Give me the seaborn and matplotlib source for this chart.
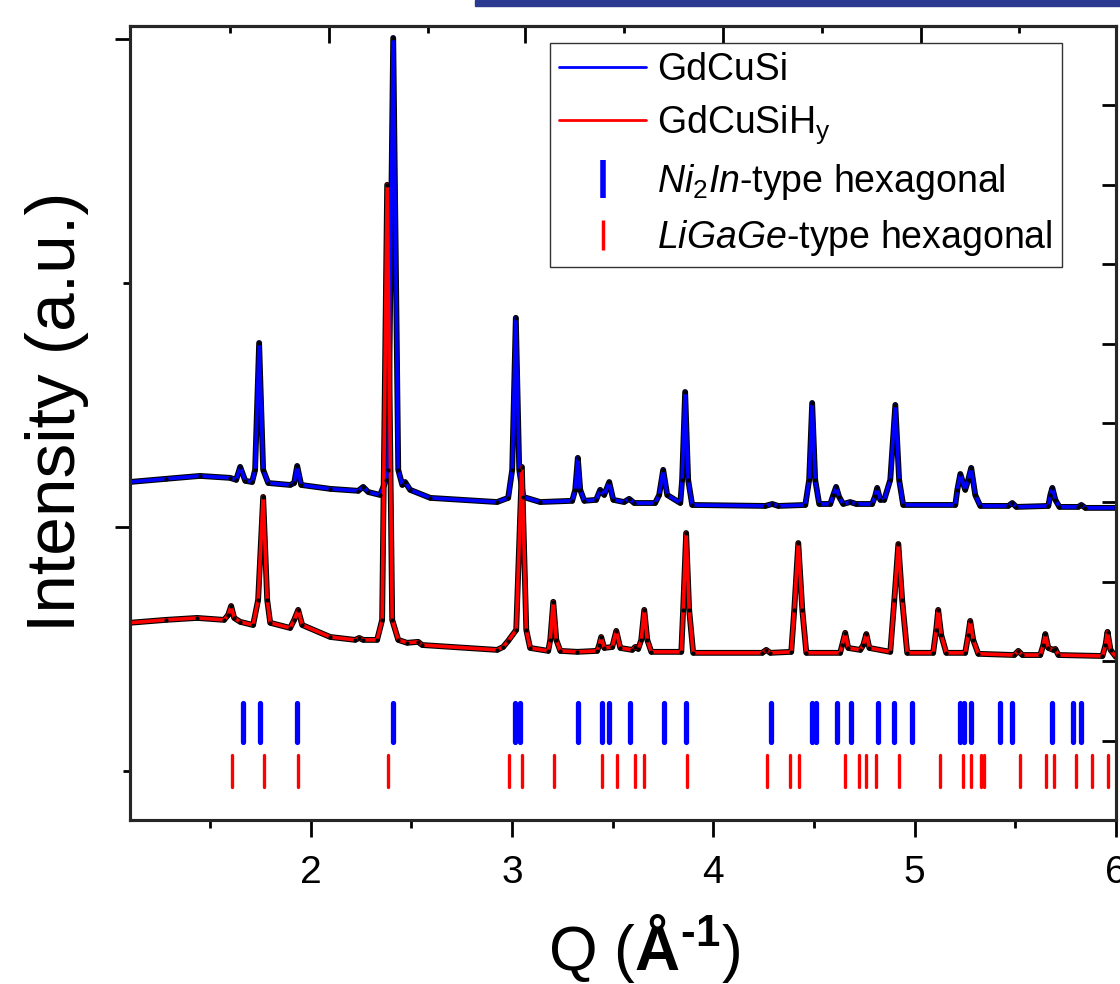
import matplotlib
matplotlib.use("Agg")
import matplotlib.pyplot as plt
from matplotlib.lines import Line2D
from matplotlib.patches import Rectangle
from matplotlib.ticker import MultipleLocator
import seaborn as sns

# GdCuSi (blue) pattern, values as plotted (offset included)
q_gdcusi = [1.10, 1.28, 1.45, 1.60, 1.63, 1.65, 1.675, 1.709, 1.724, 1.744, 1.764, 1.789,
            1.898, 1.918, 1.933, 1.953, 2.097, 2.236, 2.261, 2.286, 2.345, 2.375, 2.385,
            2.410, 2.435, 2.455, 2.469, 2.494, 2.594, 2.926, 2.981, 3.001, 3.019, 3.036,
            3.056, 3.140, 3.299, 3.314, 3.327, 3.339, 3.359, 3.418, 3.438, 3.458, 3.483,
            3.503, 3.557, 3.582, 3.607, 3.711, 3.731, 3.751, 3.771, 3.836, 3.845, 3.860,
            3.875, 3.895, 4.258, 4.293, 4.322, 4.457, 4.476, 4.491, 4.506, 4.526, 4.581,
            4.596, 4.610, 4.625, 4.645, 4.680, 4.710, 4.789, 4.804, 4.814, 4.829, 4.849,
            4.879, 4.904, 4.923, 4.943, 5.202, 5.212, 5.227, 5.251, 5.266, 5.281, 5.301,
            5.326, 5.465, 5.485, 5.505, 5.664, 5.674, 5.684, 5.699, 5.719, 5.813, 5.828,
            5.848, 6.00]
i_gdcusi = [1.84, 1.97, 2.09, 2.01, 1.93, 2.46, 1.89, 1.84, 2.34, 7.54, 2.34, 1.80,
            1.72, 1.80, 2.50, 1.72, 1.56, 1.48, 1.64, 1.43, 1.31, 1.93, 2.34,
            20.04, 2.34, 1.72, 1.84, 1.52, 1.19, 1.02, 1.19, 2.34, 8.57, 2.34,
            1.23, 1.02, 1.07, 1.52, 2.83, 1.52, 1.07, 1.11, 1.52, 1.31, 1.84,
            1.11, 1.02, 1.15, 0.98, 0.98, 1.31, 2.34, 1.31, 0.98, 1.93, 5.53,
            1.93, 0.90, 0.86, 0.94, 0.86, 0.90, 1.93, 5.08, 1.93, 0.94, 0.94,
            1.31, 1.64, 1.23, 0.94, 1.02, 0.94, 0.94, 1.27, 1.60, 1.11, 1.11,
            1.93, 5.00, 1.93, 0.90, 0.90, 1.52, 2.17, 1.52, 1.93, 2.42, 1.31,
            0.86, 0.86, 0.98, 0.82, 0.86, 1.31, 1.60, 1.11, 0.82, 0.82, 0.90,
            0.78, 0.78]

# GdCuSiHy (red) pattern
q_hydride = [1.10, 1.28, 1.436, 1.570, 1.590, 1.605, 1.620, 1.650, 1.714, 1.739, 1.764, 1.784,
             1.799, 1.898, 1.918, 1.938, 1.958, 2.097, 2.221, 2.241, 2.261, 2.330, 2.355,
             2.380, 2.405, 2.435, 2.479, 2.534, 2.554, 2.926, 2.956, 2.981, 3.021, 3.049,
             3.071, 3.090, 3.180, 3.190, 3.205, 3.220, 3.240, 3.324, 3.423, 3.433, 3.443,
             3.458, 3.498, 3.518, 3.538, 3.597, 3.612, 3.627, 3.642, 3.657, 3.672, 3.692,
             3.841, 3.850, 3.865, 3.880, 3.900, 4.243, 4.263, 4.283, 4.387, 4.402, 4.422,
             4.442, 4.462, 4.630, 4.640, 4.655, 4.670, 4.730, 4.745, 4.760, 4.775, 4.879,
             4.899, 4.919, 4.938, 4.963, 5.092, 5.107, 5.117, 5.132, 5.157, 5.251, 5.266,
             5.276, 5.291, 5.316, 5.495, 5.515, 5.535, 5.624, 5.639, 5.649, 5.664, 5.689,
             5.699, 5.714, 5.933, 5.948, 5.958, 5.973, 6.00]
i_hydride = [-3.93, -3.81, -3.73, -3.81, -3.61, -3.24, -3.73, -3.89, -4.02, -2.99, 1.23, -2.99,
             -3.93, -4.14, -3.81, -3.40, -4.02, -4.51, -4.63, -4.55, -4.63, -4.63, -3.81,
             14.02, -3.81, -4.63, -4.75, -4.71, -4.84, -5.04, -4.92, -4.67, -4.22, 2.46,
             -4.22, -4.96, -5.08, -4.63, -3.07, -4.63, -5.08, -5.12, -5.08, -4.84, -4.51,
             -4.96, -4.92, -4.26, -4.96, -5.04, -4.92, -5.00, -4.63, -3.40, -4.63, -5.12,
             -5.12, -3.40, -0.25, -3.40, -5.16, -5.16, -5.04, -5.16, -5.12, -3.40, -0.66,
             -3.40, -5.16, -5.16, -4.84, -4.34, -4.96, -5.04, -4.84, -4.39, -4.96, -5.12,
             -2.99, -0.70, -2.99, -5.16, -5.16, -4.22, -3.40, -4.43, -5.16, -5.16, -4.43,
             -3.85, -4.63, -5.20, -5.25, -5.08, -5.25, -5.25, -4.84, -4.39, -4.96, -5.04,
             -5.00, -5.25, -5.29, -4.84, -4.30, -5.04, -5.33]

# Bragg reflection positions (Q, 1/A)
refl_ni2in = [1.666, 1.746, 1.933, 2.411, 3.016, 3.041, 3.327, 3.447, 3.484, 3.584,
              3.756, 3.865, 4.286, 4.491, 4.510, 4.614, 4.685, 4.818, 4.899, 4.987,
              5.227, 5.243, 5.281, 5.422, 5.485, 5.684, 5.789, 5.826]
refl_ligage = [1.610, 1.766, 1.938, 2.385, 2.986, 3.051, 3.210, 3.449, 3.521, 3.612,
               3.658, 3.869, 4.266, 4.379, 4.427, 4.655, 4.725, 4.760, 4.809, 4.923,
               5.124, 5.238, 5.280, 5.331, 5.346, 5.521, 5.652, 5.693, 5.801, 5.881, 5.960]

series_labels = ["GdCuSi", r"GdCuSiH$_{\mathrm{y}}$",
                 r"$\mathit{Ni}_{\mathrm{2}}\mathit{In}$-type hexagonal",
                 r"$\mathit{LiGaGe}$-type hexagonal"]

# ticks of the top axis (independent scale in the original figure)
top_major = [2.089, 3.066, 4.048, 5.030]
top_minor = [1.599, 2.581, 3.556, 4.538, 5.520]


def main() -> None:
    sns.set_theme(style="ticks")
    plt.rcParams["font.family"] = ["Liberation Sans", "DejaVu Sans"]
    plt.rcParams["mathtext.fontset"] = "custom"
    plt.rcParams["mathtext.rm"] = "Liberation Sans"
    plt.rcParams["mathtext.it"] = "Liberation Sans:italic"
    plt.rcParams["mathtext.bf"] = "Liberation Sans:bold"
    plt.rcParams["text.color"] = "black"
    plt.rcParams["axes.labelcolor"] = "black"
    plt.rcParams["xtick.color"] = "black"
    plt.rcParams["ytick.color"] = "black"

    fig = plt.figure(figsize=(11.2, 9.84), dpi=100)
    ax = fig.add_axes([0.1165, 0.1667, 0.8799, 0.8069])

    for q, inten, col in [(q_gdcusi, i_gdcusi, "#0000ff"), (q_hydride, i_hydride, "#ff0000")]:
        sns.lineplot(x=q, y=inten, color="black", lw=4.2, sort=False, estimator=None, ax=ax, zorder=2)
        sns.lineplot(x=q, y=inten, color=col, lw=2.6, sort=False, estimator=None, ax=ax, zorder=3)
        sns.scatterplot(x=q, y=inten, color="black", s=9, linewidth=0, ax=ax, zorder=4)

    ax.vlines(refl_ni2in, -8.8, -7.2, color="#0000ff", lw=3.8, capstyle="round")
    ax.vlines(refl_ligage, -10.66, -9.34, color="#ff0000", lw=2.4, capstyle="round")

    ax.set_xlim(1.105, 6.0)
    ax.set_ylim(-12.01, 20.53)

    for spine in ax.spines.values():
        spine.set_linewidth(2.2)
        spine.set_color("black")

    ax.xaxis.set_major_locator(MultipleLocator(1))
    ax.xaxis.set_minor_locator(MultipleLocator(0.5))
    ax.tick_params(axis="x", which="major", direction="out", length=12, width=2,
                   labelsize=28, pad=13, top=False, color="black", labelcolor="black")
    ax.tick_params(axis="x", which="minor", direction="out", length=6, width=2, top=False, color="black")
    ax.set_yticks([0, 20])
    ax.set_yticks([-10, 10], minor=True)
    ax.tick_params(axis="y", which="major", direction="out", length=11, width=2,
                   labelleft=False, right=False, color="black")
    ax.tick_params(axis="y", which="minor", direction="out", length=5, width=2,
                   right=False, color="black")

    secx = ax.secondary_xaxis("top")
    secx.set_xticks(top_major)
    secx.set_xticks(top_minor, minor=True)
    secx.tick_params(which="major", direction="in", length=12, width=2, labeltop=False, color="black")
    secx.tick_params(which="minor", direction="in", length=5, width=2, color="black")
    secx.spines["top"].set_linewidth(2.2)

    ax2 = ax.twinx()
    ax2.set_ylim(0, 10)
    ax2.set_yticks(range(11))
    ax2.tick_params(axis="y", direction="in", length=10, width=2, labelright=False, color="black")
    for spine in ax2.spines.values():
        spine.set_linewidth(2.2)

    ax.set_xlabel("Q ($\\mathbf{Å}^{\\mathbf{\u20101}}$)", fontsize=45, va="center", color="black")
    ax.xaxis.set_label_coords(0.521, -0.162)
    ax.set_ylabel("Intensity (a.u.)", fontsize=50, va="center", color="black")
    ax.yaxis.set_label_coords(-0.0746, 0.514)

    handles = [
        Line2D([], [], color="#0000ff", lw=2),
        Line2D([], [], color="#ff0000", lw=2),
        Line2D([], [], ls="none", marker="|", ms=27, mew=4, color="#0000ff"),
        Line2D([], [], ls="none", marker="|", ms=22, mew=2.5, color="#ff0000"),
    ]
    leg = ax.legend(handles, series_labels, loc="upper right", bbox_to_anchor=(0.945, 0.979),
                    fontsize=27, frameon=True, fancybox=False, edgecolor="#333333",
                    framealpha=1, handlelength=2.3, handletextpad=0.3, labelspacing=0.42,
                    borderpad=0.25, borderaxespad=0, labelcolor="black")
    leg.get_frame().set_linewidth(1.0)
    leg.set_zorder(10)

    fig.add_artist(Rectangle((475 / 1120, 1 - 6 / 984), 645 / 1120, 6 / 984,
                             transform=fig.transFigure, color="#2b3990"))

    fig.savefig("out.png", dpi=100)


if __name__ == "__main__":
    main()
